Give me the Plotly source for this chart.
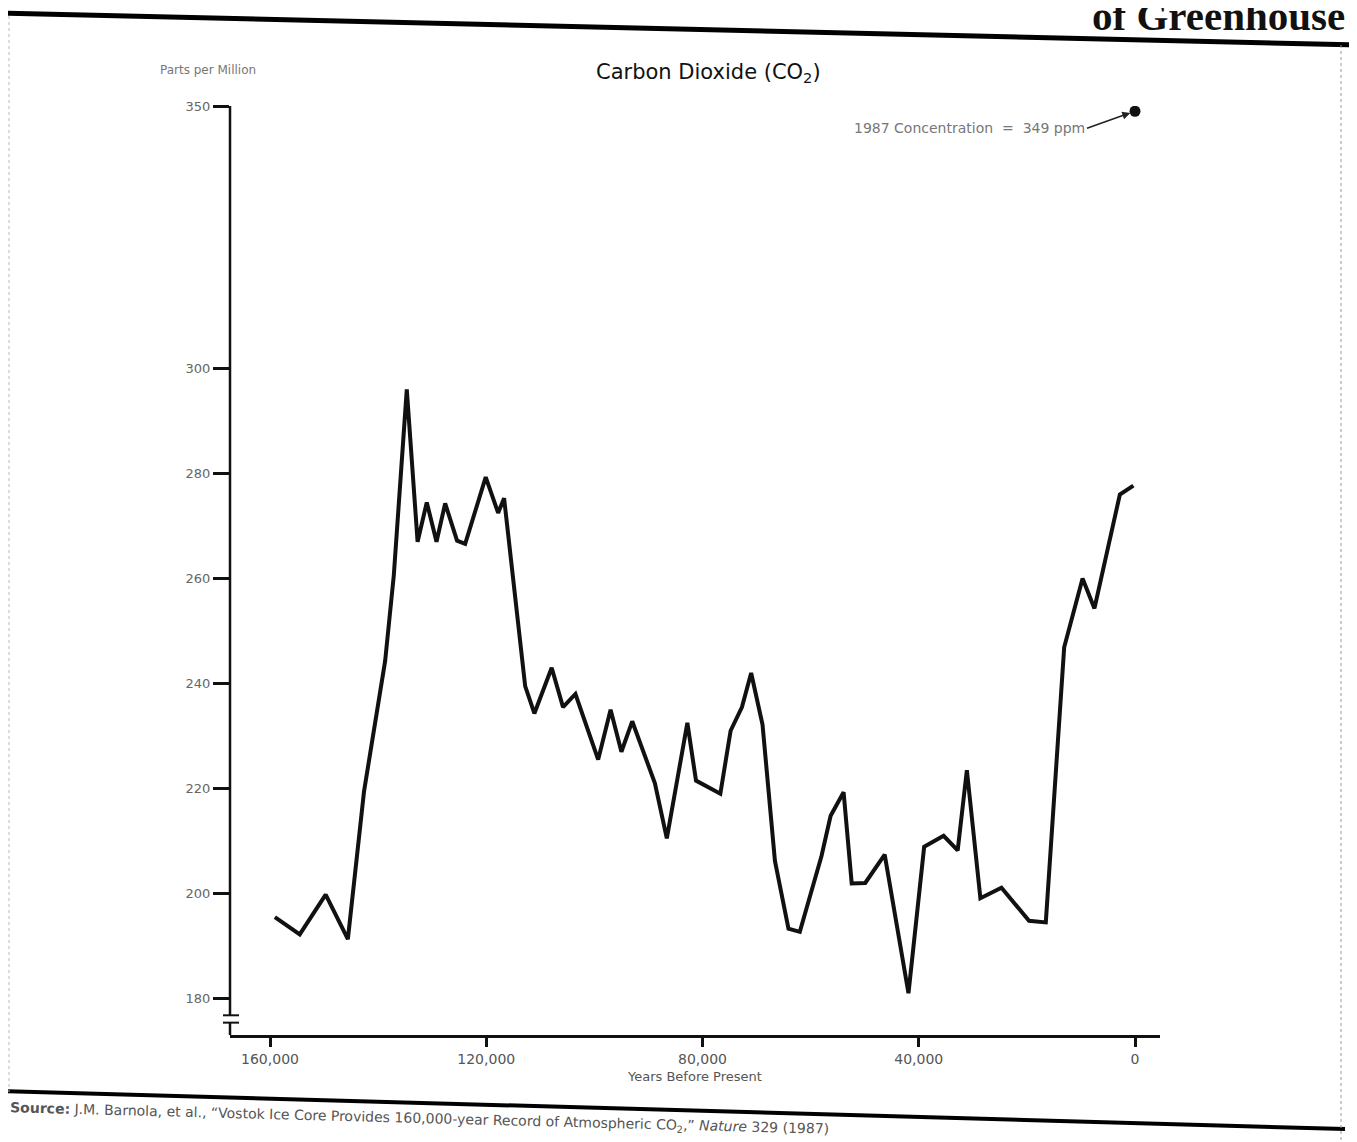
import plotly.graph_objects as go

# ---- data (years before present, CO2 ppm) ----
years = [159100, 154500, 149700, 145600, 142600, 140000, 138700, 137100, 134700,
         132700, 131000, 129200, 127600, 125400, 123900, 120100, 117800, 116700,
         112800, 111100, 107900, 105800, 103500, 99300, 97000, 95000, 93000,
         88800, 86600, 82800, 81200, 76700, 74800, 72700, 71000, 68900, 66600,
         64100, 62000, 58000, 56300, 53900, 52400, 49900, 46300, 41900, 39000,
         35400, 32800, 31100, 28600, 24700, 19600, 16500, 13100, 9700, 7500,
         2800, 300]
co2 = [195.5, 192.2, 199.8, 191.3, 219.5, 236.5, 244.3, 260.6, 296.0,
       267.0, 274.5, 267.0, 274.3, 267.2, 266.6, 279.3, 272.5, 275.3,
       239.5, 234.3, 243.0, 235.5, 238.0, 225.5, 235.0, 227.0, 232.8,
       221.0, 210.5, 232.5, 221.5, 219.0, 231.0, 235.5, 242.0, 232.2, 206.2,
       193.3, 192.7, 207.1, 214.8, 219.3, 201.9, 202.0, 207.4, 181.0, 208.9,
       211.0, 208.2, 223.5, 199.1, 201.1, 194.8, 194.5, 246.9, 260.0, 254.3,
       276.0, 277.7]
current_year = [0]
current_ppm = [349]

y_ticks = [180, 200, 220, 240, 260, 280, 300, 350]
x_ticks = [160000, 120000, 80000, 40000, 0]
x_tick_labels = ["160,000", "120,000", "80,000", "40,000", "0"]

OFF = 8                      # page body margin
W, H = 1349, 1134            # figure size
L, R, T, B = 222, 197, 98, 107
PW, PH = W - L - R, H - T - B


def px(page_x):
    return (page_x - OFF - L) / PW


def py(page_y):
    return (H - B - (page_y - OFF)) / PH


FONT = "DejaVu Sans, Verdana, sans-serif"

fig = go.Figure()
fig.add_trace(go.Scatter(x=years, y=co2, mode="lines",
                         line=dict(color="#111111", width=4),
                         hoverinfo="skip", showlegend=False))
fig.add_trace(go.Scatter(x=current_year, y=current_ppm, mode="markers",
                         marker=dict(color="#111111", size=11),
                         hoverinfo="skip", showlegend=False))

ybot = 350 - PH / 5.25
brk_hi, brk_lo = 176.8, 175.4

shapes = [
    # y axis line with break
    dict(type="line", xref="paper", yref="y", x0=0, x1=0, y0=350, y1=brk_hi,
         line=dict(color="#111", width=2.5)),
    dict(type="line", xref="paper", yref="y", x0=0, x1=0, y0=brk_lo, y1=ybot,
         line=dict(color="#111", width=2.5)),
    dict(type="line", xref="paper", yref="y", x0=-7 / PW, x1=9 / PW, y0=brk_hi, y1=brk_hi,
         line=dict(color="#111", width=2)),
    dict(type="line", xref="paper", yref="y", x0=-7 / PW, x1=9 / PW, y0=brk_lo, y1=brk_lo,
         line=dict(color="#111", width=2)),
    # page frame of the scan
    dict(type="line", xref="paper", yref="paper", x0=px(0), x1=px(1357), y0=py(13), y1=py(45),
         line=dict(color="#000", width=5)),
    dict(type="line", xref="paper", yref="paper", x0=px(0), x1=px(1345), y0=py(1091), y1=py(1129),
         line=dict(color="#000", width=4)),
    dict(type="line", xref="paper", yref="paper", x0=px(1341), x1=px(1341), y0=py(45), y1=py(1142),
         line=dict(color="#999", width=1, dash="dot")),
    dict(type="line", xref="paper", yref="paper", x0=px(9), x1=px(9), y0=py(16), y1=py(1092),
         line=dict(color="#bbb", width=1, dash="dot")),
]

annotations = [
    dict(text="Carbon Dioxide (CO<sub>2</sub>)", xref="paper", yref="paper",
         x=px(708), y=py(73), showarrow=False, xanchor="center", yanchor="middle",
         font=dict(family=FONT, size=21, color="#111")),
    dict(text="Parts per Million", xref="paper", yref="paper",
         x=px(158), y=py(70), showarrow=False, xanchor="left", yanchor="middle",
         font=dict(family=FONT, size=12, color="#777")),
    dict(text="Years Before Present", xref="paper", yref="paper",
         x=px(694), y=py(1076), showarrow=False, xanchor="center", yanchor="middle",
         font=dict(family=FONT, size=13, color="#555")),
    dict(text="1987 Concentration&nbsp;&nbsp;=&nbsp;&nbsp;349 ppm", xref="x", yref="y",
         x=current_year[0], y=current_ppm[0], ax=-48, ay=17,
         showarrow=True, arrowhead=2, arrowsize=1, arrowwidth=1.6,
         arrowcolor="#222", standoff=5, xanchor="right", yanchor="middle",
         font=dict(family=FONT, size=14, color="#777")),
    dict(text="<b>Source:</b> J.M. Barnola, et al., \u201cVostok Ice Core Provides 160,000-year Record of Atmospheric CO<sub>2</sub>,\u201d <i>Nature</i> 329 (1987)",
         xref="paper", yref="paper", x=px(8), y=py(1119), showarrow=False,
         xanchor="left", yanchor="middle", textangle=1.5,
         font=dict(family=FONT, size=14, color="#555")),
    dict(text="<b>of Greenhouse</b>", xref="paper", yref="paper",
         x=px(1090), y=py(41), showarrow=False, xanchor="left", yanchor="bottom",
         font=dict(family="Liberation Serif, Times New Roman, serif", size=41, color="#111")),
]

fig.update_layout(
    width=W, height=H,
    margin=dict(l=L, r=R, t=T, b=B, pad=0),
    paper_bgcolor="white", plot_bgcolor="white",
    shapes=shapes, annotations=annotations,
    xaxis=dict(range=[160000 + 40 / 216.25 * 40000, -(25 / 216.25) * 40000],
               tickvals=x_ticks, ticktext=x_tick_labels,
               showgrid=False, zeroline=False, showline=True, linecolor="#111", linewidth=2.5,
               ticks="outside", ticklen=9, tickwidth=2.5, tickcolor="#111",
               tickfont=dict(family=FONT, size=14, color="#555")),
    yaxis=dict(range=[ybot, 350], tickvals=y_ticks,
               showgrid=False, zeroline=False, showline=False,
               ticks="outside", ticklen=16, tickwidth=2.5, tickcolor="#111",
               tickfont=dict(family=FONT, size=13, color="#666")),
    hovermode=False,
)

fig.write_html("out.html")
